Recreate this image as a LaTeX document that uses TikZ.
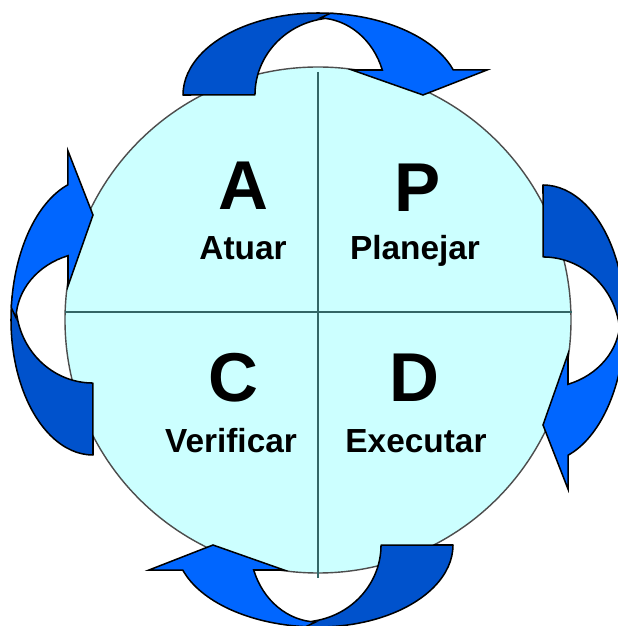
\documentclass[tikz,border=0pt]{standalone}
\usepackage{fontspec}
\setmainfont{Liberation Sans}
\usepackage{xcolor}
\definecolor{cDisc}{HTML}{CCFFFF}
\definecolor{cDiscBorder}{HTML}{4D4D4D}
\definecolor{cDivider}{HTML}{336666}
\definecolor{cTail}{HTML}{0052CC}
\definecolor{cHead}{HTML}{0066FF}
\tikzset{
  disc/.style={draw=cDiscBorder, fill=cDisc, line width=1.2pt},
  divider/.style={draw=cDivider, line width=1.2pt},
  tailBand/.style={draw=black, fill=cTail, line width=1.3pt, line join=round},
  headBand/.style={draw=black, fill=cHead, line width=1.3pt, line join=miter},
  bigLetter/.style={font=\bfseries\fontsize{59}{60}\selectfont, anchor=base, inner sep=0pt},
  stepWord/.style={font=\bfseries\fontsize{28.5}{30}\selectfont, anchor=base, inner sep=0pt},
}

\begin{document}
\begin{tikzpicture}[x=0.03cm, y=0.03cm]
\useasboundingbox (-318,-306) rectangle (299,320);

% ========== DISC ==========
\fill[white] (-318,-306) rectangle (299,320);
\node[disc, circle, minimum size=506*0.03cm, inner sep=0pt] (disc) at (0,0) {};
\coordinate (vTop) at (0,248);
\coordinate (vBot) at (0,-258);
\coordinate (hLeft) at (-253,8);
\coordinate (hRight) at (254,8);
\draw[divider] (vTop) -- (vBot);
\draw[divider] (hLeft) -- (hRight);

% ========== QUADRANT LABELS ==========
\node[bigLetter] (letA) at (-75,110) {A};
\node[stepWord]  (wordA) at (-75,60) {Atuar};
\node[bigLetter] (letP) at (100,108) {P};
\node[stepWord]  (wordP) at (97,60) {Planejar};
\node[bigLetter] (letC) at (-85,-82) {C};
\node[stepWord]  (wordC) at (-87,-132) {Verificar};
\node[bigLetter] (letD) at (96,-82) {D};
\node[stepWord]  (wordD) at (98,-132) {Executar};

% ========== CURVED ARROWS (one shape, turned round the disc) ==========
\foreach \ang in {0,-90,180,90} {
  \begin{scope}[rotate=\ang]
    % back half
    \draw[tailBand] (-135,225)
      arc[start angle=180, end angle=80, x radius=135, y radius=82]
      -- (3.9,301)
      arc[start angle=99.4, end angle=180, x radius=80, y radius=77]
      -- cycle;
    % front half with head
    \draw[headBand] (12.4,306.7)
      arc[start angle=85, end angle=17.8, x radius=142, y radius=82]
      -- (169,250) -- (105,225) -- (34,250) -- (64.3,250)
      arc[start angle=18.9, end angle=88, x radius=68, y radius=77]
      -- cycle;
  \end{scope}
}

\end{tikzpicture}
\end{document}
